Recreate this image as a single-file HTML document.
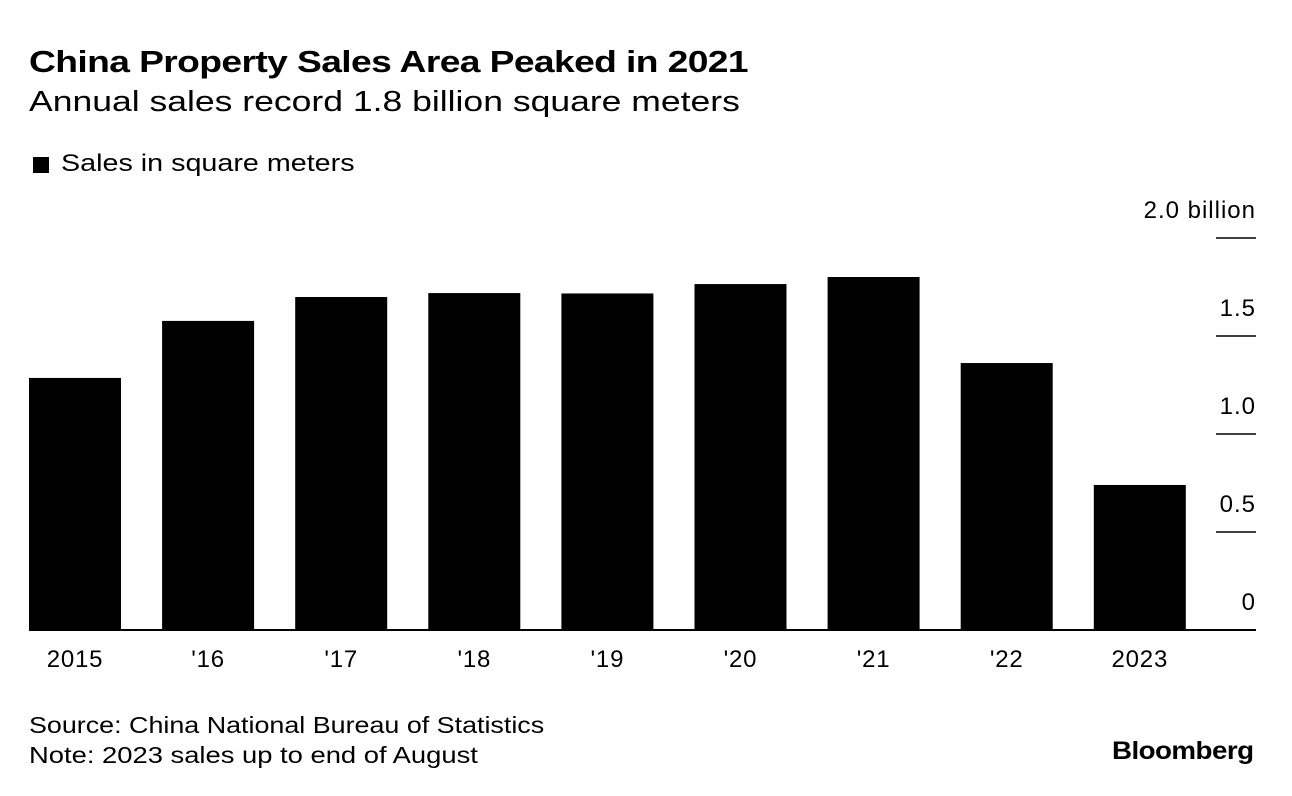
<!DOCTYPE html>
<html><head><meta charset="utf-8"><style>
body{margin:0;background:#fff;font-family:"Liberation Sans",Arial,sans-serif;color:#000}
#wrap{position:relative;width:1292px;height:796px;overflow:hidden}
.t{position:absolute;white-space:nowrap;transform-origin:0 0}
</style></head><body>
<div id="wrap">
<div class="t" style="left:29px;top:44px;font-size:31px;font-weight:bold;letter-spacing:-0.5px;transform:scaleX(1.2)">China Property Sales Area Peaked in 2021</div>
<div class="t" style="left:29px;top:86px;font-size:29px;transform:scaleX(1.225)">Annual sales record 1.8 billion square meters</div>
<div style="position:absolute;left:33px;top:157px;width:16px;height:16px;background:#000"></div>
<div class="t" style="left:61px;top:150px;font-size:24px;transform:scaleX(1.196)">Sales in square meters</div>
<svg id="chart" width="1292" height="796" style="position:absolute;left:0;top:0"></svg>
<div class="t" style="left:29px;top:712px;font-size:23px;transform:scaleX(1.168)">Source: China National Bureau of Statistics</div>
<div class="t" style="left:29px;top:742px;font-size:23px;transform:scaleX(1.19)">Note: 2023 sales up to end of August</div>
<div class="t" style="left:1112px;top:737px;font-size:25px;font-weight:bold;letter-spacing:-0.5px;transform:scaleX(1.11)">Bloomberg</div>
</div>
<script>
const categories=["2015","'16","'17","'18","'19","'20","'21","'22","2023"];
const values=[1.286,1.577,1.699,1.719,1.717,1.765,1.801,1.362,0.74];
const tickValues=[0,0.5,1.0,1.5,2.0];
const tickLabels=["0","0.5","1.0","1.5","2.0 billion"];
const NS="http://www.w3.org/2000/svg";
const svg=document.getElementById('chart');
const y0=630,yMax=238,vMax=2.0;
const y=v=>y0-(v/vMax)*(y0-yMax);
const x=i=>29+i*133.1;
const bw=92;
function mk(t,a){const e=document.createElementNS(NS,t);for(const k in a)e.setAttribute(k,a[k]);svg.appendChild(e);return e;}
tickValues.forEach((v,i)=>{
 const l=mk('line',{x1:1216,x2:1256,y1:y(v),y2:y(v),stroke:'#000','stroke-width':1.5});
 
 
 const t=mk('text',{x:1256,y:y(v)-20,'text-anchor':'end','font-size':24,'letter-spacing':1,'font-family':'Liberation Sans, Arial, sans-serif'});
 t.textContent=tickLabels[i];
 
 
});
values.forEach((v,i)=>{
 const r=mk('rect',{x:x(i),y:y(v),width:bw,height:y0-y(v),fill:'#000'});
 
 
 const t=mk('text',{x:x(i)+bw/2,y:667,'text-anchor':'middle','font-size':24,'letter-spacing':0.8,'font-family':'Liberation Sans, Arial, sans-serif'});
 t.textContent=categories[i];
 
 
});
const b=mk('line',{x1:29,x2:1256,y1:y0,y2:y0,stroke:'#000','stroke-width':2});


</script>
</body></html>
